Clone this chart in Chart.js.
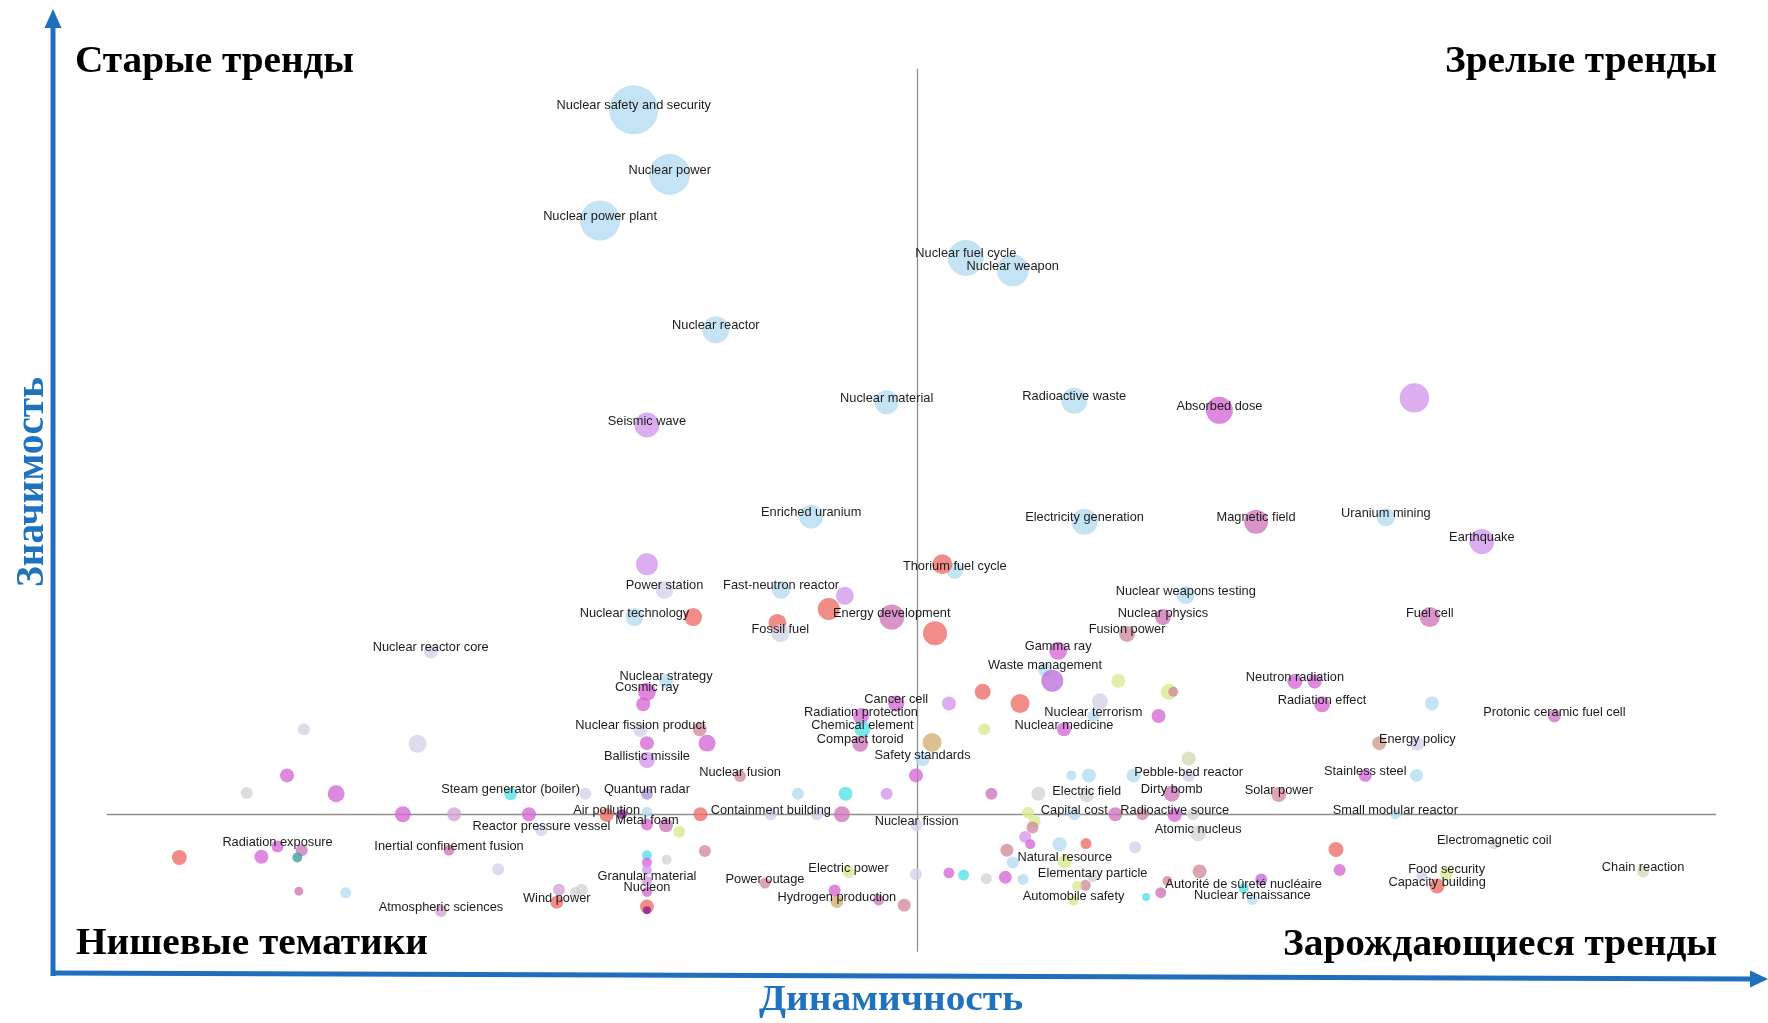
<!DOCTYPE html>
<html lang="ru">
<head>
<meta charset="utf-8">
<title>Карта трендов</title>
<script src="https://cdn.jsdelivr.net/npm/chart.js@4.4.1/dist/chart.umd.min.js"></script>
<style>
  html, body { margin: 0; padding: 0; background: #ffffff; }
  #wrap { position: relative; width: 1768px; height: 1023px; }
</style>
</head>
<body>
<div id="wrap"><canvas id="map"></canvas></div>
<script>
// Topic names ("" = unlabeled topic)
const topics = [
  "Nuclear safety and security", "Nuclear power", "Nuclear power plant", "Nuclear reactor", "Seismic wave",
  "Nuclear material", "Nuclear fuel cycle", "Nuclear weapon", "Radioactive waste", "Absorbed dose",
  "", "Enriched uranium", "Electricity generation", "Magnetic field", "Uranium mining",
  "Earthquake", "Thorium fuel cycle", "", "", "Power station",
  "Fast-neutron reactor", "", "Nuclear technology", "", "",
  "Fossil fuel", "", "Energy development", "", "Gamma ray",
  "Waste management", "", "Nuclear reactor core", "Nuclear strategy", "Cosmic ray",
  "", "Nuclear fission product", "", "", "",
  "Ballistic missile", "Nuclear fusion", "", "Steam generator (boiler)", "",
  "Quantum radar", "", "", "", "",
  "Reactor pressure vessel", "Air pollution", "", "", "Metal foam",
  "", "", "", "Containment building", "",
  "Inertial confinement fusion", "", "", "Atmospheric sciences", "",
  "", "", "Wind power", "", "",
  "", "Granular material", "Nucleon", "", "",
  "", "", "", "", "Radiation exposure",
  "", "", "", "", "",
  "Cancer cell", "Radiation protection", "Chemical element", "Compact toroid", "",
  "Safety standards", "", "", "", "",
  "", "", "", "", "",
  "", "Electric field", "", "", "",
  "", "", "Nuclear fission", "Capital cost", "",
  "", "", "", "", "",
  "", "", "", "Natural resource", "",
  "Electric power", "", "", "", "",
  "", "", "Elementary particle", "", "",
  "Automobile safety", "", "Power outage", "Hydrogen production", "",
  "", "", "Fusion power", "Nuclear physics", "Nuclear weapons testing",
  "Fuel cell", "", "", "", "",
  "Nuclear terrorism", "Nuclear medicine", "", "Neutron radiation", "",
  "Radiation effect", "", "Protonic ceramic fuel cell", "Energy policy", "",
  "", "Pebble-bed reactor", "Stainless steel", "", "Dirty bomb",
  "Solar power", "Radioactive source", "", "", "",
  "Atomic nucleus", "Small modular reactor", "", "", "",
  "", "", "", "Autorité de sûreté nucléaire", "Nuclear renaissance",
  "Food security", "", "Capacity building", "Electromagnetic coil", "Chain reaction"
];

// Dynamics (horizontal), relative to the split value 0
const dynamics = [
  -38.6, -33.7, -43.2, -27.4, -36.8,  -4.1, 6.7, 13.1, 21.5, 41.3,
  67.9, -14.4, 22.9, 46.3, 64.0,  77.1, 5.2, 3.5, -36.8, -34.4,
  -18.5, -9.8, -38.5, -30.5, -19.0,  -18.6, -12.0, -3.4, 2.5, 19.3,
  17.5, 18.5, -66.3, -34.2, -36.8,  -37.3, -37.7, -29.6, -36.8, -28.6,
  -36.8, -24.1, -68.1, -55.4, -45.2,  -36.8, -79.2, -70.1, -63.1, -52.9,
  -51.2, -42.3, -40.2, -36.8, -36.8,  -34.2, -32.4, -29.5, -19.9, -28.9,
  -63.8, -57.1, -77.9, -64.9, -48.8,  -46.6, -45.7, -49.1, -36.8, -36.8,
  -36.8, -36.8, -36.8, -36.8, -36.8,  -34.1, -83.6, -85.9, -91.4, -87.2,
  -83.9, -84.5, -89.4, -100.6, -84.3,  -2.8, -7.6, -7.4, -7.7, 2.1,
  0.8, 4.4, 9.0, 14.1, 9.2,  -0.1, -16.2, -9.7, -4.1, 10.2,
  16.6, 23.2, 21.1, 23.5, 29.6,  -10.2, -13.6, 0.0, 21.5, 15.2,
  16.1, 15.8, 14.8, 15.5, 19.5,  23.1, 29.8, 12.3, 20.2, 13.1,
  -9.3, -0.1, 4.4, 6.4, 9.5,  12.1, 14.5, 24.0, 23.0, 21.9,
  21.4, 31.3, -20.7, -10.9, -11.2,  -5.2, -1.7, 28.7, 33.6, 36.7,
  70.0, 27.5, 34.4, 35.0, 25.0,  24.1, 20.1, 33.0, 51.6, 54.3,
  55.3, 70.3, 87.0, 68.3, 63.1,  37.1, 37.1, 61.2, 68.2, 34.8,
  49.4, 35.2, 30.8, 27.1, 37.7,  38.4, 65.3, 57.2, 57.7, 38.6,
  34.2, 33.3, 47.0, 44.6, 45.8,  72.3, 68.9, 71.0, 78.8, 99.1
];

// Significance (vertical), relative to the split value 0
const significance = [
  96.0, 87.2, 80.9, 66.0, 53.0,  56.1, 75.8, 74.1, 56.3, 55.0,
  56.7, 40.5, 39.8, 39.8, 40.4,  37.1, 33.1, 34.0, 34.0, 30.5,
  30.5, 29.7, 26.8, 26.8, 26.0,  24.6, 27.9, 26.8, 24.6, 22.2,
  19.6, 18.1, 22.1, 18.1, 16.6,  14.9, 11.4, 11.5, 9.6, 9.6,
  7.3, 5.1, 9.5, 2.7, 2.7,  2.7, 2.7, -0.1, -0.1, -0.1,
  -2.3, -0.2, -0.1, 0.2, -1.5,  -1.6, -2.5, -0.1, -0.1, -5.1,
  -5.0, -7.6, -10.8, -13.3, -10.4,  -10.7, -10.4, -12.1, -5.7, -6.7,
  -7.7, -9.2, -10.7, -12.7, -13.2,  -6.3, 11.5, 5.2, 2.8, -4.5,
  -5.0, -6.0, -5.9, -6.0, -10.6,  15.0, 13.3, 11.5, 9.5, 9.7,
  7.4, 15.0, 16.6, 15.0, 11.5,  5.2, 2.7, 2.7, 2.7, 2.7,
  2.7, 2.5, 5.2, 5.2, 5.2,  -0.1, -0.1, -1.6, -0.1, 0.1,
  -1.1, -1.9, -3.2, -4.2, -4.2,  -4.1, -4.6, -5.0, -6.6, -6.7,
  -8.0, -8.3, -8.1, -8.4, -8.9,  -8.7, -9.0, -8.7, -9.8, -9.9,
  -11.9, -11.4, -9.5, -12.0, -10.5,  -11.8, -12.5, 24.5, 26.8, 29.8,
  26.8, 18.1, 16.6, 16.6, 15.3,  13.3, 11.5, 13.3, 18.0, 18.0,
  14.9, 15.0, 13.3, 9.5, 9.6,  7.5, 5.1, 5.2, 5.2, 2.7,
  2.6, -0.2, -0.1, -0.1, -0.1,  -2.7, -0.1, -4.9, -7.7, -7.9,
  -9.2, -10.8, -9.0, -10.2, -11.7,  -8.2, -8.5, -9.9, -4.2, -7.9
];

// Publication volume per topic (bubble area)
const volume = [
  600, 420, 400, 182, 156,  144, 324, 256, 169, 182,
  216, 144, 169, 144, 81,  156, 64, 100, 121, 81,
  81, 81, 81, 81, 81,  81, 121, 156, 144, 81,
  49, 121, 49, 49, 81,  49, 49, 49, 49, 72,
  64, 36, 81, 42, 36,  36, 72, 64, 49, 49,
  36, 49, 25, 25, 36,  49, 36, 49, 36, 36,
  30, 36, 30, 36, 36,  25, 36, 42, 25, 25,
  25, 25, 25, 49, 16,  25, 36, 49, 36, 36,
  36, 25, 49, 56, 20,  64, 64, 64, 64, 90,
  49, 49, 64, 90, 36,  49, 36, 49, 36, 36,
  49, 49, 25, 49, 49,  64, 36, 36, 36, 36,
  36, 36, 36, 25, 49,  30, 36, 42, 49, 36,
  36, 36, 30, 30, 30,  42, 30, 25, 30, 25,
  25, 16, 30, 42, 36,  30, 42, 64, 64, 81,
  100, 49, 64, 25, 64,  36, 49, 49, 56, 49,
  64, 49, 42, 49, 49,  49, 36, 42, 42, 64,
  56, 49, 36, 49, 36,  64, 25, 56, 36, 49,
  25, 30, 36, 25, 30,  42, 30, 56, 25, 36
];

// Thematic cluster of each topic
const cluster = [
  0, 0, 0, 0, 1,  0, 0, 0, 0, 2,
  1, 0, 0, 3, 0,  1, 0, 4, 1, 5,
  0, 1, 0, 4, 4,  5, 4, 3, 4, 2,
  0, 17, 5, 0, 2,  2, 5, 10, 2, 2,
  1, 10, 5, 6, 5,  14, 2, 2, 15, 2,
  5, 4, 12, 0, 2,  3, 7, 4, 5, 10,
  3, 5, 0, 15, 15,  9, 9, 4, 6, 2,
  1, 1, 2, 4, 12,  9, 5, 2, 9, 2,
  3, 11, 2, 4, 3,  2, 2, 6, 3, 8,
  0, 1, 4, 4, 7,  2, 0, 6, 1, 3,
  9, 9, 0, 0, 0,  3, 5, 5, 0, 7,
  7, 10, 1, 2, 0,  4, 5, 10, 7, 0,
  7, 5, 2, 6, 9,  2, 0, 9, 10, 7,
  7, 6, 10, 8, 2,  3, 10, 10, 3, 0,
  3, 7, 7, 10, 5,  0, 2, 2, 2, 2,
  2, 0, 3, 5, 13,  16, 5, 2, 0, 3,
  10, 2, 10, 3, 9,  9, 0, 4, 2, 10,
  10, 3, 17, 6, 0,  7, 5, 4, 9, 16
];

// Cluster colours as they appear on white
const clusterColors = [
  '#c4e3f4', '#dcaef0', '#de88de', '#d894c8', '#f28c88',
  '#dddcef', '#78e8ec', '#e0efa8', '#dcc190', '#dddddd',
  '#dca4b0', '#66b4b0', '#a050aa', '#d8b2a2', '#bcace2',
  '#dcb8dc', '#dde2c6', '#cc8ee0'
];

// Scale window and quadrant split lines
const DYN_MIN = -125.06, DYN_MAX = 116.14;
const SIG_MIN = -28.58, SIG_MAX = 110.98;
const DYN_SPLIT = 0, SIG_SPLIT = 0;
const SPLIT_V_FROM = 101.6, SPLIT_V_TO = -18.85;
const SPLIT_H_FROM = -110.5, SPLIT_H_TO = 109.05;

const AXIS_BLUE = '#1f6fbe';
const TITLE_BLUE = '#1f72bd';

// Translucent fill that renders as the given colour on white
function translucent(hex, a) {
  const n = parseInt(hex.slice(1), 16);
  const ch = [(n >> 16) & 255, (n >> 8) & 255, n & 255]
    .map(c => Math.max(0, Math.min(255, Math.round((c - 255 * (1 - a)) / a))));
  return `rgba(${ch[0]},${ch[1]},${ch[2]},${a})`;
}
const fills = clusterColors.map(c => translucent(c, 0.78));

const points = dynamics.map((x, i) => ({ x, y: significance[i], r: Math.sqrt(volume[i]) }));

// Draw text stretched/condensed to a given width
function fitText(c, text, x, y, width, size, color, angle) {
  c.save();
  c.font = `bold ${size}px "Liberation Serif", "Times New Roman", serif`;
  const w = c.measureText(text).width;
  c.translate(x, y);
  if (angle) c.rotate(angle);
  c.scale(width / w, 1);
  c.fillStyle = color;
  c.textAlign = 'left';
  c.textBaseline = 'alphabetic';
  c.fillText(text, 0, 0);
  c.restore();
}

const quadrantLines = {
  id: 'quadrantLines',
  beforeDatasetsDraw(chart) {
    const { ctx, scales: { x, y } } = chart;
    const vx = Math.round(x.getPixelForValue(DYN_SPLIT)) + 0.5;
    const hy = Math.round(y.getPixelForValue(SIG_SPLIT)) + 0.5;
    ctx.save();
    ctx.strokeStyle = '#8e8e8e';
    ctx.lineWidth = 1.3;
    ctx.beginPath();
    ctx.moveTo(vx, y.getPixelForValue(SPLIT_V_FROM));
    ctx.lineTo(vx, y.getPixelForValue(SPLIT_V_TO));
    ctx.moveTo(x.getPixelForValue(SPLIT_H_FROM), hy);
    ctx.lineTo(x.getPixelForValue(SPLIT_H_TO), hy);
    ctx.stroke();
    ctx.restore();
  }
};

const topicLabels = {
  id: 'topicLabels',
  afterDatasetsDraw(chart) {
    const { ctx } = chart;
    const meta = chart.getDatasetMeta(0);
    ctx.save();
    ctx.font = '12.8px "Liberation Sans", Arial, sans-serif';
    ctx.fillStyle = '#1c1c1c';
    ctx.textAlign = 'center';
    ctx.textBaseline = 'middle';
    meta.data.forEach((el, i) => {
      if (topics[i]) ctx.fillText(topics[i], el.x, el.y - 4);
    });
    ctx.restore();
  }
};

const frame = {
  id: 'frame',
  afterDraw(chart) {
    const c = chart.ctx;
    c.save();
    c.strokeStyle = AXIS_BLUE;
    c.fillStyle = AXIS_BLUE;
    c.lineWidth = 5;
    // vertical axis with arrow
    c.beginPath(); c.moveTo(53, 976); c.lineTo(53, 24); c.stroke();
    c.beginPath(); c.moveTo(53, 9); c.lineTo(44.5, 28); c.lineTo(61.5, 28); c.closePath(); c.fill();
    // horizontal axis with arrow
    c.beginPath(); c.moveTo(51, 973); c.lineTo(1752, 979); c.stroke();
    c.beginPath(); c.moveTo(1768, 979); c.lineTo(1750, 970.5); c.lineTo(1750, 987.5); c.closePath(); c.fill();
    c.restore();

    // quadrant names
    fitText(c, 'Старые тренды', 75, 72, 279, 38, '#000');
    fitText(c, 'Зрелые тренды', 1445, 72, 272, 38, '#000');
    fitText(c, 'Нишевые тематики', 76, 954, 352, 38, '#000');
    fitText(c, 'Зарождающиеся тренды', 1283, 955, 434, 38, '#000');
    // axis titles
    fitText(c, 'Динамичность', 759, 1010, 264, 36, TITLE_BLUE);
    fitText(c, 'Значимость', 43, 587, 210, 40, TITLE_BLUE, -Math.PI / 2);
  }
};

new Chart(document.getElementById('map'), {
  type: 'bubble',
  data: {
    datasets: [{
      data: points,
      backgroundColor: ctx => fills[cluster[ctx.dataIndex]],
      borderWidth: 0,
      hoverBorderWidth: 0,
      clip: false
    }]
  },
  options: {
    responsive: true,
    maintainAspectRatio: false,
    animation: false,
    devicePixelRatio: 1,
    events: [],
    layout: { padding: 0, autoPadding: false },
    plugins: { legend: { display: false }, tooltip: { enabled: false } },
    scales: {
      x: { type: 'linear', min: DYN_MIN, max: DYN_MAX, display: false },
      y: { type: 'linear', min: SIG_MIN, max: SIG_MAX, display: false }
    }
  },
  plugins: [quadrantLines, topicLabels, frame]
});
</script>
</body>
</html>
